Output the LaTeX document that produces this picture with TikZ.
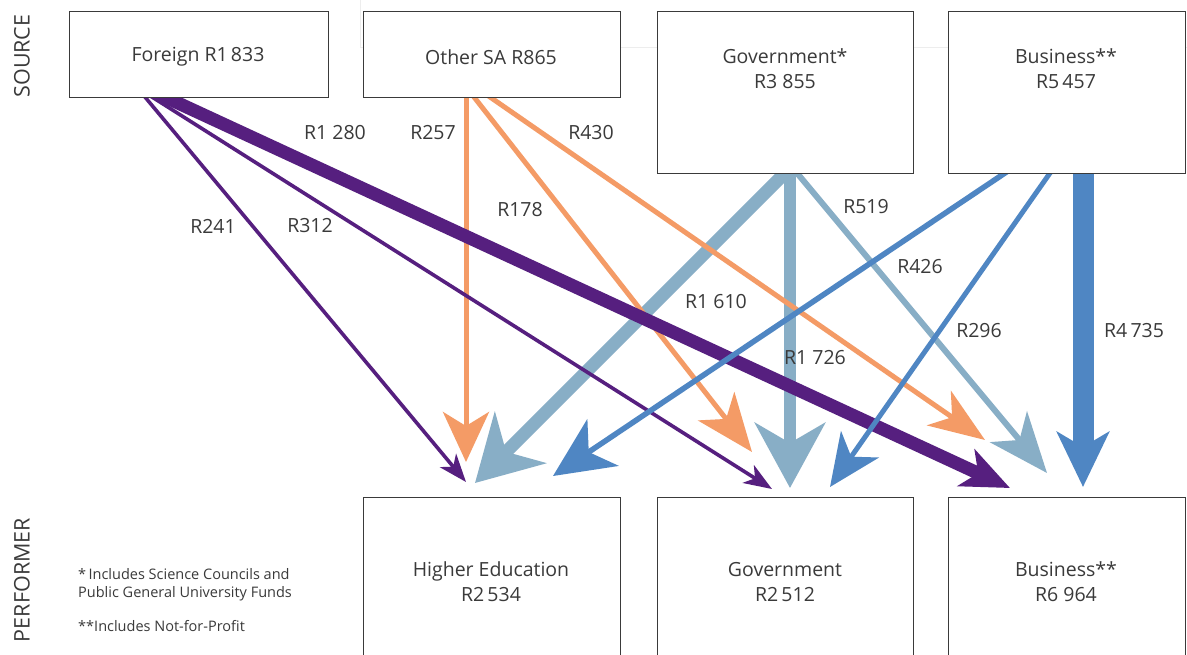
\documentclass[tikz,border=0pt]{standalone}
\usepackage{fontspec}
\setmainfont{Open Sans}
\usetikzlibrary{arrows.meta}
\definecolor{purp}{HTML}{561F7F}
\definecolor{orng}{HTML}{F49B66}
\definecolor{lblue}{HTML}{88AEC6}
\definecolor{mblue}{HTML}{4F86C3}
\definecolor{txtc}{HTML}{3A3A3A}
\definecolor{faint}{HTML}{EDEDED}
\begin{document}
\begin{tikzpicture}[x=1pt,y=-1pt,
  box/.style={draw=txtc, line width=1.2pt, fill=white, inner sep=0pt, anchor=north west},
  lbl/.style={text=txtc, font=\fontsize{19.5}{25}\selectfont, inner sep=0pt, align=center},
  side/.style={text=txtc, font=\fontsize{21.5}{24}\selectfont, inner sep=0pt, rotate=90},
  note/.style={text=txtc, font=\fontsize{14.5}{18}\selectfont, inner sep=0pt, anchor=west, align=left},
  tip/.style n args={3}{-{Stealth[length=#1pt,width=#2pt,inset=#3pt]}, shorten <=-12pt},
]
\clip (0,0) rectangle (1187,654);
\fill[white] (0,0) rectangle (1187,654);
% faint background guide lines
\draw[faint, line width=0.8pt] (360,0) -- (360,47) -- (1187,47);

% start and tip coordinates
\coordinate (f1) at (145,97);  \coordinate (f1e) at (466,482);
\coordinate (f2) at (152,97);  \coordinate (f2e) at (772,489);
\coordinate (f3) at (165,97);  \coordinate (f3e) at (1010,488);
\coordinate (o1) at (466,97);  \coordinate (o1e) at (466,462);
\coordinate (o2) at (474,97);  \coordinate (o2e) at (752,452);
\coordinate (o3) at (490,97);  \coordinate (o3e) at (985,440);
\coordinate (g1) at (785,173); \coordinate (g1e) at (475,483);
\coordinate (g2) at (790,173); \coordinate (g2e) at (790,488);
\coordinate (g3) at (797,173); \coordinate (g3e) at (1047,473);
\coordinate (b1) at (1005,173);\coordinate (b1e) at (553,476);
\coordinate (b2) at (1050,173);\coordinate (b2e) at (830,487);
\coordinate (b3) at (1083,173);\coordinate (b3e) at (1083,487);

% Government flows
\draw[lblue, line width=13pt, tip={64}{72}{20}] (g1) -- (g1e);
\draw[lblue, line width=12pt, tip={65}{70}{20}] (g2) -- (g2e);
\draw[lblue, line width=6pt, tip={60}{48}{17}] (g3) -- (g3e);
% Other SA flows
\draw[orng, line width=5pt, tip={50}{46}{14}] (o1) -- (o1e);
\draw[orng, line width=5pt, tip={58}{46}{16}] (o2) -- (o2e);
\draw[orng, line width=5pt, tip={56}{42}{16}] (o3) -- (o3e);
% Foreign flows
\draw[purp, line width=3.6pt, tip={28}{21}{8}] (f1) -- (f1e);
\draw[purp, line width=3.6pt, tip={28}{21}{8}] (f2) -- (f2e);
\draw[purp, line width=13pt, tip={48}{40}{13}] (f3) -- (f3e);
% Business flows
\draw[mblue, line width=5.5pt, tip={60}{56}{17}] (b1) -- (b1e);
\draw[mblue, line width=5pt, tip={52}{46}{15}] (b2) -- (b2e);
\draw[mblue, line width=21pt, tip={55}{52}{15}] (b3) -- (b3e);

% source boxes
\node[box, minimum width=259pt, minimum height=86pt] (foreign) at (69,11) {};
\node[box, minimum width=257pt, minimum height=86pt] (othersa) at (363,11) {};
\node[box, minimum width=256pt, minimum height=162pt] (govsrc) at (657,11) {};
\node[box, minimum width=237pt, minimum height=162pt] (bussrc) at (948,11) {};
\node[lbl] (foreignt) at (198,57) {Foreign R1\,833};
\node[lbl] (othersat) at (491,57) {Other SA R865};
\node[lbl] (govsrct) at (785,69) {Government*\\R3 855};
\node[lbl] (bussrct) at (1066,69) {Business**\\R5\,457};

% performer boxes
\node[box, minimum width=257pt, minimum height=200pt] (hed) at (363,497) {};
\node[box, minimum width=256pt, minimum height=200pt] (govperf) at (657,497) {};
\node[box, minimum width=237pt, minimum height=200pt] (busperf) at (948,497) {};
\node[lbl] (hedt) at (491,582) {Higher Education\\R2\,534};
\node[lbl] (govperft) at (785,582) {Government\\R2\,512};
\node[lbl] (busperft) at (1066,582) {Business**\\R6 964};

% side labels
\node[side] (source) at (22,56) {SOURCE};
\node[side] (performer) at (22,580) {PERFORMER};

% notes
\node[note] (note1) at (78,585) {*\,Includes Science Councils and\\Public General University Funds};
\node[note] (note2) at (78,626) {**Includes Not-for-Profit};

% flow labels
\node[lbl] (l1280) at (335,133) {R1 280};
\node[lbl] (l257) at (433,133) {R257};
\node[lbl] (l430) at (591,133) {R430};
\node[lbl] (l241) at (213,226) {R241};
\node[lbl] (l312) at (310,226) {R312};
\node[lbl] (l178) at (520,210) {R178};
\node[lbl] (l519) at (866,207) {R519};
\node[lbl] (l426) at (920,267) {R426};
\node[lbl] (l1610) at (716,302) {R1 610};
\node[lbl] (l296) at (979,331) {R296};
\node[lbl] (l4735) at (1134,331) {R4\,735};
\node[lbl] (l1726) at (815,358) {R1 726};
\end{tikzpicture}
\end{document}
